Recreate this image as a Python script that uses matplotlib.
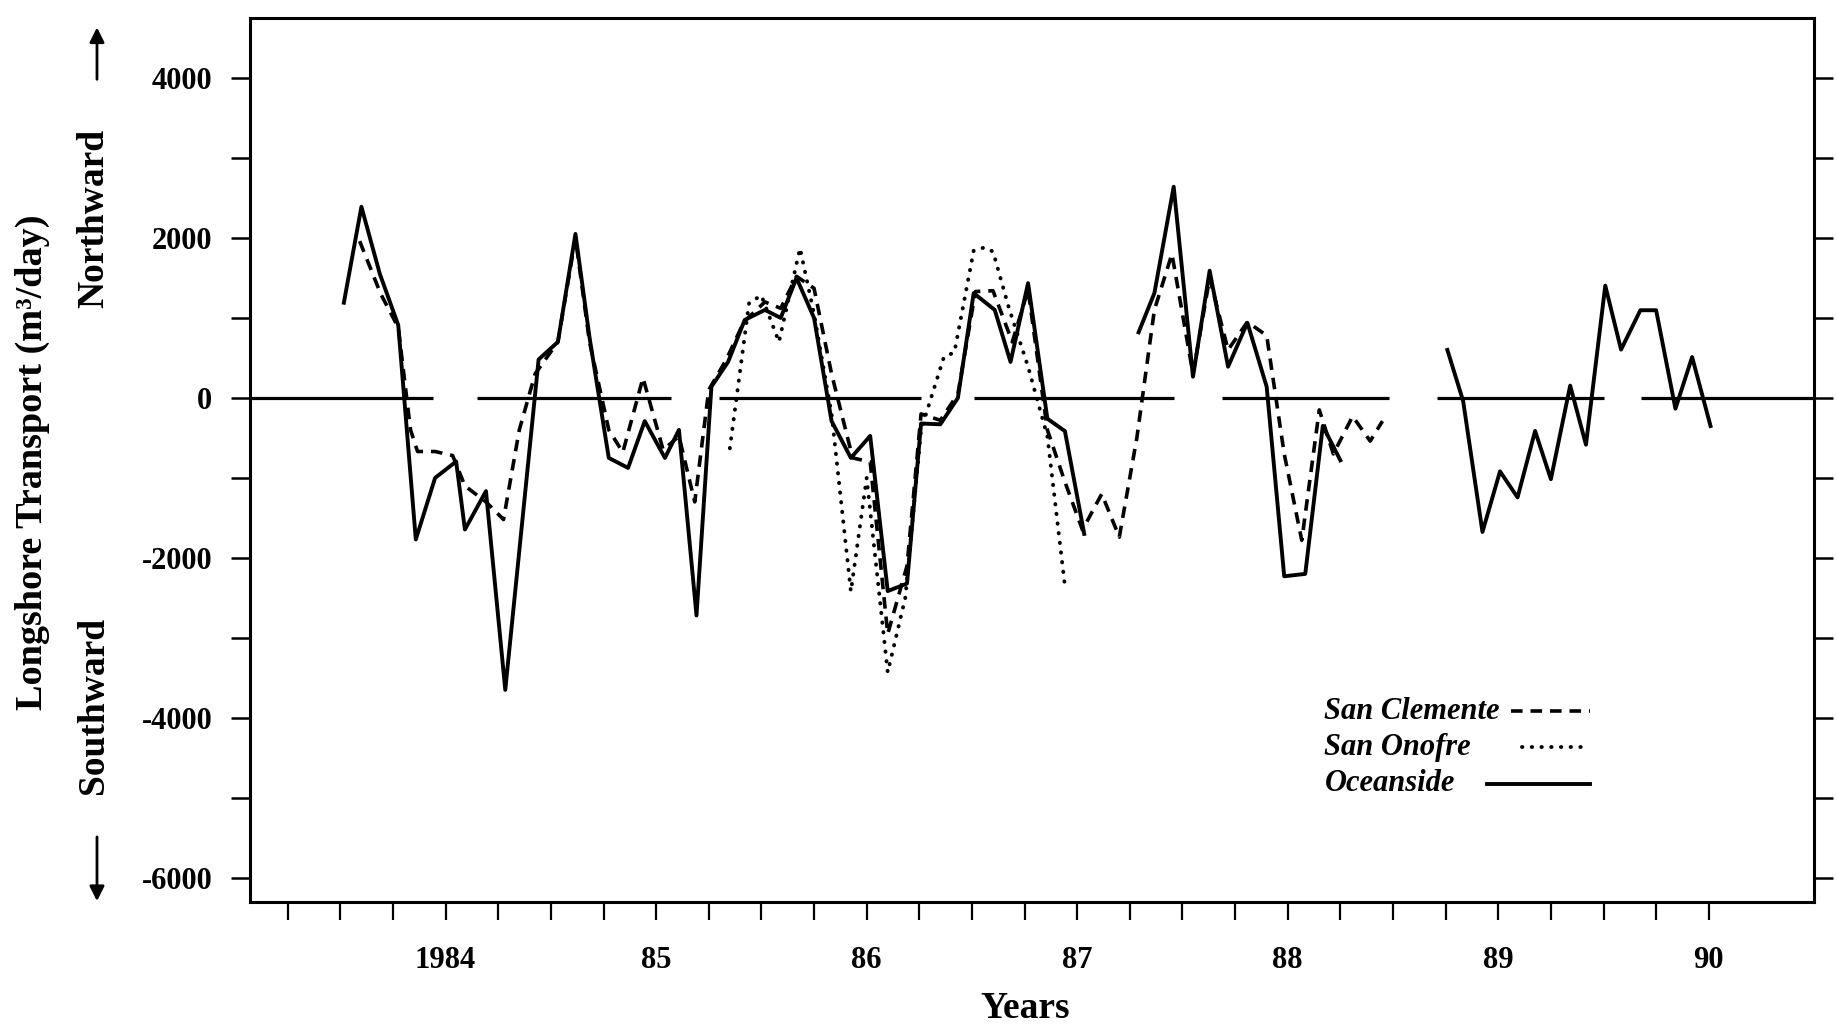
import numpy as np
import matplotlib
matplotlib.use("Agg")
import matplotlib.pyplot as plt
from matplotlib.ticker import FixedLocator, MultipleLocator

plt.rcParams['font.family'] = ['Liberation Serif', 'DejaVu Serif']
plt.rcParams['font.weight'] = 'bold'
plt.rcParams['axes.unicode_minus'] = False

# Data: survey months counted from Jan 1983 (0 = Jan 1983), transport in m3/day
ocean_month = [6.2, 7.2, 8.25, 9.3, 10.3, 11.4, 12.6, 13.1, 14.3, 15.4, 17.3, 18.4, 19.4,
               20.2, 21.3, 22.4, 23.35, 24.5, 25.3, 26.3, 27.15, 28.1, 29.05, 30.2, 31.1,
               32.0, 33.0, 34.0, 35.1, 36.2, 37.2, 38.3, 39.1, 40.2, 41.2, 42.1, 43.3,
               44.2, 45.2, 46.3, 47.3, 48.4, 50.0, 51.5, 52.4, 53.5, 54.6, 55.55, 56.6,
               57.7, 58.8, 59.8, 61.0, 62.0, 63.0, 66.0, 69.1, 70.0, 71.1, 72.1, 73.1,
               74.1, 75.0, 76.1, 77.0, 78.1, 79.0, 80.1, 81.0, 82.1, 83.05, 84.1]
ocean_value = [1190, 2390, 1550, 910, -1770, -1000, -795, -1645, -1165, -3650, 480, 700, 2050,
               760, -750, -875, -290, -750, -400, -2720, 140, 450, 975, 1100, 1000,
               1500, 1000, -290, -750, -475, -2415, -2320, -320, -330, 0, 1310, 1100,
               450, 1435, -260, -415, -1700, np.nan, 820, 1310, 2640, 265, 1590, 390,
               940, 140, -2230, -2200, -350, -780, np.nan, 600, -40, -1676, -918, -1244,
               -413, -1016, 154, -585, 1404, 604, 1096, 1096, -135, 511, -351]

clemente_month = [7.1, 8.3, 9.3, 10.0, 10.4, 11.4, 12.4, 13.1, 14.3, 15.3, 16.2, 17.1, 18.4,
                  19.4, 20.2, 21.3, 22.1, 23.25, 24.4, 25.3, 26.2, 27.0, 28.0, 29.0, 30.2,
                  31.1, 32.0, 33.0, 34.0, 35.2, 36.2, 37.2, 38.3, 39.1, 40.2, 41.2, 42.2,
                  43.2, 44.3, 45.2, 46.3, 47.3, 48.3, 49.4, 50.4, 51.4, 52.4, 53.4, 54.6,
                  55.55, 56.6, 57.7, 58.8, 59.8, 60.8, 61.8, 62.6, 63.7, 64.7, 65.4]
clemente_value = [1960, 1300, 880, -400, -670, -670, -720, -1100, -1300, -1520, -400, 300, 700,
                  2000, 700, -400, -680, 250, -650, -480, -1300, 100, 480, 950, 1200,
                  1120, 1520, 1370, 300, -750, -800, -2950, -2100, -200, -280, 50, 1330,
                  1340, 700, 1350, -400, -1050, -1650, -1200, -1740, -500, 1100, 1800, 300,
                  1500, 600, 950, 780, -700, -1780, -150, -700, -230, -540, -290]

onofre_month = [28.2, 29.3, 30.0, 31.0, 32.2, 33.0, 34.0, 35.1, 36.0, 37.2, 38.2, 39.1,
                40.4, 41.0, 42.1, 42.7, 43.2, 44.1, 45.2, 46.3, 47.3]
onofre_value = [-630, 1190, 1280, 700, 1870, 1050, -200, -2420, -1000, -3430, -2500, -400,
                510, 570, 1840, 1880, 1830, 1130, 390, -480, -2350]

# zero reference line is drawn in pieces
zero_start = [1983.07, 1984.15, 1985.30, 1986.51, 1987.69, 1988.71, 1989.68]
zero_end = [1983.94, 1985.07, 1986.26, 1987.46, 1988.48, 1989.50, 1990.50]

year_ticks = [1984, 1985, 1986, 1987, 1988, 1989, 1990]
year_labels = ['1984', '85', '86', '87', '88', '89', '90']

to_year = lambda m: 1983 + np.asarray(m) / 12.0

dotted = dict(color='black', lw=2.8, linestyle=(0, (0.1, 2.4)), dash_capstyle='round')
dashed = dict(color='black', lw=2.6, linestyle=(0, (3.2, 2.2)))
solid = dict(color='black', lw=2.8)

fig = plt.figure(figsize=(18.37, 10.26), dpi=100)
ax = fig.add_axes([0.136, 0.121, 0.8515, 0.8615])

ax.hlines(np.zeros(len(zero_start)), zero_start, zero_end, color='black', lw=2.3)

ax.plot(to_year(onofre_month), onofre_value, **dotted)
ax.plot(to_year(clemente_month), clemente_value, **dashed)
ax.plot(to_year(ocean_month), ocean_value, **solid)

ax.set_xlim(1983.07, 1990.5)
ax.set_ylim(-6300, 4750)

ax.xaxis.set_major_locator(FixedLocator(year_ticks))
ax.set_xticklabels(year_labels)
ax.xaxis.set_minor_locator(FixedLocator(np.arange(1983.25, 1990.01, 0.25)))
ax.yaxis.set_major_locator(MultipleLocator(2000))
ax.yaxis.set_minor_locator(MultipleLocator(1000))

ax.tick_params(axis='x', which='both', direction='out', length=13, width=1.6,
               top=False, labelsize=22, pad=19)
ax.tick_params(axis='y', which='both', direction='out', length=14, width=1.8,
               left=True, right=True, labelsize=22, pad=13)
for s in ax.spines.values():
    s.set_linewidth(2.2)

# legend: italic names on the left, line samples on the right
legend_names = ['San Clemente', 'San Onofre', 'Oceanside']
legend_styles = [dashed, dotted, solid]
legend_rows = [0.2155, 0.175, 0.1335]
legend_starts = [0.806, 0.813, 0.791]
for name, style, yrow, x0 in zip(legend_names, legend_styles, legend_rows, legend_starts):
    ax.text(0.687, yrow, name, transform=ax.transAxes, ha='left', va='center',
            fontsize=22, style='italic', fontweight='bold')
    ax.plot([x0, 0.857], [yrow, yrow], transform=ax.transAxes, **style)

fig.text(1025 / 1837, 0.017, 'Years', ha='center', va='center', fontsize=27, fontweight='bold')
fig.text(0.0174, 0.549, 'Longshore Transport (m³/day)', rotation=90, ha='center', va='center',
         fontsize=27.5, fontweight='bold')
fig.text(0.051, 0.7875, 'Northward', rotation=90, ha='center', va='center',
         fontsize=27, fontweight='bold')
fig.text(0.051, 0.312, 'Southward', rotation=90, ha='center', va='center',
         fontsize=27, fontweight='bold')
fig.add_artist(matplotlib.patches.FancyArrowPatch((0.0528, 0.920), (0.0528, 0.976),
               transform=fig.transFigure, arrowstyle='-|>', mutation_scale=22,
               color='black', lw=2))
fig.add_artist(matplotlib.patches.FancyArrowPatch((0.0528, 0.187), (0.0528, 0.119),
               transform=fig.transFigure, arrowstyle='-|>', mutation_scale=22,
               color='black', lw=2))

fig.savefig('out.png', dpi=100)
plt.close(fig)
